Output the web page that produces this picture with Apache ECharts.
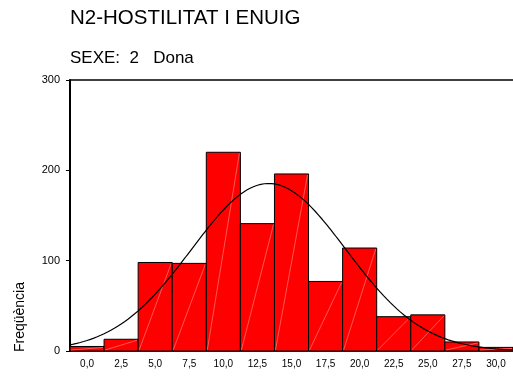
<!DOCTYPE html>
<html>
<head>
<meta charset="utf-8">
<script src="https://cdn.jsdelivr.net/npm/echarts@6/dist/echarts.min.js"></script>
<style>
  html, body { margin: 0; padding: 0; background: #fff; }
  #chart { width: 513px; height: 376px; }
</style>
</head>
<body>
<div id="chart"></div>
<script>
// Histogram of N2 (hostility and anger) scores, women only
const binCenters = [0, 2.5, 5, 7.5, 10, 12.5, 15, 17.5, 20, 22.5, 25, 27.5, 30];
const frequencies = [5, 13, 98, 97, 220, 141, 196, 77, 114, 38, 40, 10, 4];
const binWidth = 2.5;
const xTickLabels = [0, 2.5, 5, 7.5, 10, 12.5, 15, 17.5, 20, 22.5, 25, 27.5, 30];

const FONT = '"Liberation Sans", Arial, Helvetica, sans-serif';

// Normal curve fitted to the binned scores (mean, sd and count from the bins)
const total = frequencies.reduce((s, f) => s + f, 0);
const mean = binCenters.reduce((s, x, i) => s + x * frequencies[i], 0) / total;
const sd = Math.sqrt(binCenters.reduce((s, x, i) => s + frequencies[i] * (x - mean) * (x - mean), 0) / total);
const xMin = binCenters[0] - binWidth / 2;
const xMax = binCenters[binCenters.length - 1] + binWidth / 2;
const curve = [];
for (let k = 0; k <= 260; k++) {
  const x = xMin + (xMax - xMin) * k / 260;
  const z = (x - mean) / sd;
  curve.push([x, total * binWidth / (sd * Math.sqrt(2 * Math.PI)) * Math.exp(-0.5 * z * z)]);
}

const barData = binCenters.map((c, i) => [c, frequencies[i]]);

const chart = echarts.init(document.getElementById('chart'), null, { renderer: 'canvas' });
chart.setOption({
  animation: false,
  backgroundColor: '#fff',
  title: [
    { text: 'N2-HOSTILITAT I ENUIG', left: 70, top: 8, padding: 0,
      textStyle: { fontFamily: FONT, fontSize: 20.5, fontWeight: 'normal', color: '#000' } },
    { text: 'SEXE:  2   Dona', left: 70, top: 50, padding: 0,
      textStyle: { fontFamily: FONT, fontSize: 17, fontWeight: 'normal', color: '#000' } }
  ],
  graphic: [
    { type: 'text', x: 20, y: 317, rotation: Math.PI / 2,
      style: { text: 'Freqüència', fontFamily: FONT, fontSize: 14, fill: '#000',
               align: 'center', verticalAlign: 'middle' } }
  ],
  grid: { left: 70, right: 0, top: 80, bottom: 25, containLabel: false },
  xAxis: [
    {
      type: 'value', min: xMin, max: xMax, position: 'bottom',
      axisLine: { show: true, onZero: false, lineStyle: { color: '#000', width: 1.5 } },
      axisTick: { show: false },
      splitLine: { show: false },
      axisLabel: {
        customValues: xTickLabels,
        margin: 8,
        fontFamily: FONT, fontSize: 10, color: '#000',
        formatter: v => v.toFixed(1).replace('.', ',')
      }
    },
    {
      type: 'value', min: xMin, max: xMax, position: 'top',
      axisLine: { show: true, onZero: false, lineStyle: { color: '#000', width: 1.5 } },
      axisTick: { show: false }, axisLabel: { show: false }, splitLine: { show: false }
    }
  ],
  yAxis: {
    type: 'value', min: 0, max: 300, interval: 100, position: 'left',
    axisLine: { show: true, onZero: false, lineStyle: { color: '#000', width: 2 } },
    axisTick: { show: true, inside: false, length: 4, lineStyle: { color: '#000', width: 1 } },
    splitLine: { show: false },
    axisLabel: {
      margin: 10,
      fontFamily: FONT, fontSize: 11, color: '#000'
    }
  },
  series: [
    {
      type: 'custom',
      data: barData,
      renderItem: function (params, api) {
        const c = api.value(0), v = api.value(1);
        const p0 = api.coord([c - binWidth / 2, v]);
        const p1 = api.coord([c + binWidth / 2, 0]);
        return {
          type: 'group',
          children: [
            { type: 'rect',
              shape: { x: p0[0], y: p0[1], width: p1[0] - p0[0], height: p1[1] - p0[1] },
              style: { fill: '#ff0000', stroke: '#000', lineWidth: 1 } },
            { type: 'line',
              shape: { x1: p0[0] + 1, y1: p1[1] - 1, x2: p1[0] - 1, y2: p0[1] + 1 },
              style: { stroke: 'rgba(255,190,190,0.75)', lineWidth: 0.6 } }
          ]
        };
      },
      z: 2
    },
    {
      type: 'line',
      data: curve,
      showSymbol: false,
      smooth: false,
      lineStyle: { color: '#000', width: 1.2 },
      z: 3
    }
  ]
});
</script>
</body>
</html>
